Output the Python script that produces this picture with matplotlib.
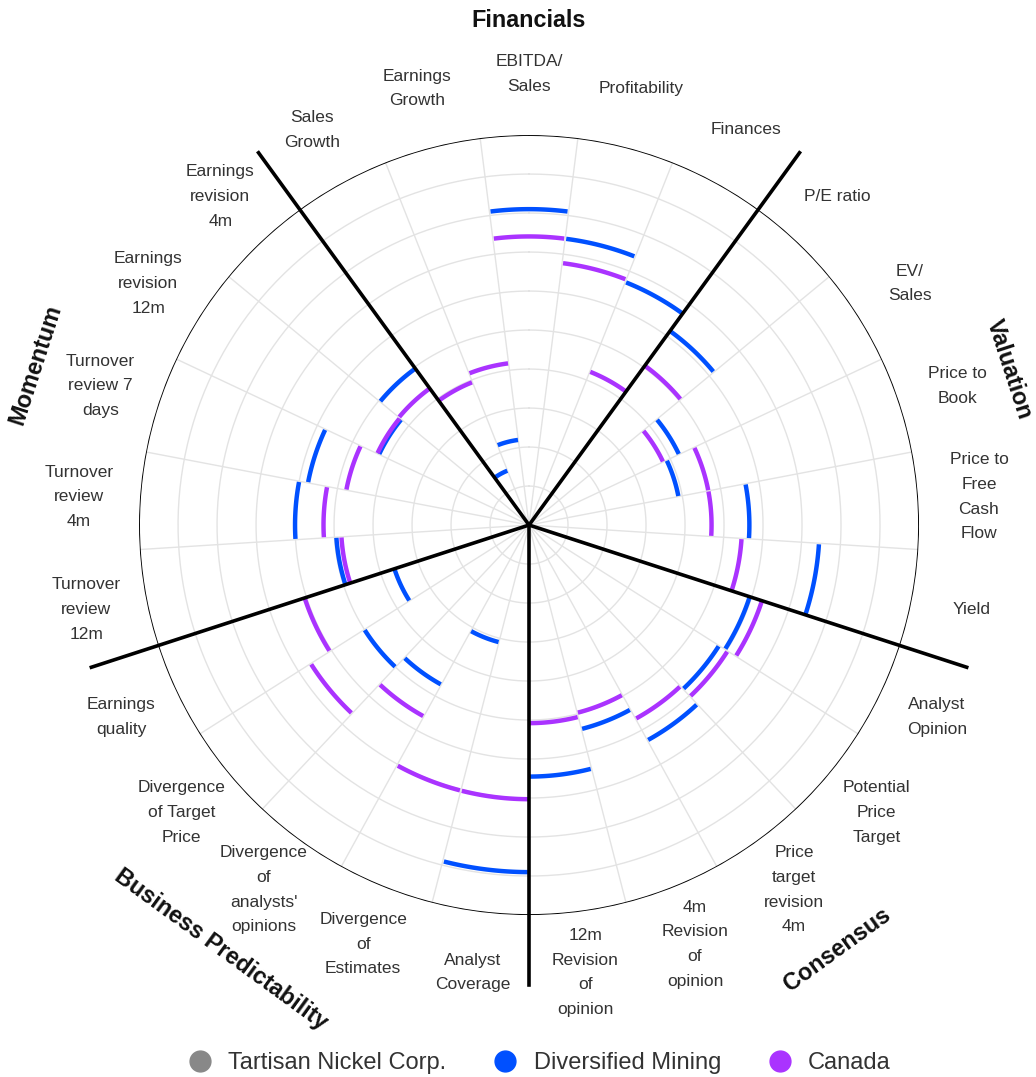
import numpy as np
import matplotlib
matplotlib.use('Agg')
import matplotlib.pyplot as plt
from matplotlib.lines import Line2D

plt.rcParams['font.family'] = ['Liberation Sans', 'DejaVu Sans']

# Groupes et critères (dans le sens horaire, en partant de Financials)
groups = ['Financials', 'Valuation', 'Consensus', 'Business Predictability', 'Momentum']
categories = [
    'Sales\nGrowth', 'Earnings\nGrowth', 'EBITDA/\nSales', 'Profitability', 'Finances',
    'P/E ratio', 'EV/\nSales', 'Price to\nBook', 'Price to\nFree\nCash\nFlow', 'Yield',
    'Analyst\nOpinion', 'Potential\nPrice\nTarget', 'Price\ntarget\nrevision\n4m',
    '4m\nRevision\nof\nopinion', '12m\nRevision\nof\nopinion',
    'Analyst\nCoverage', 'Divergence\nof\nEstimates', "Divergence\nof\nanalysts'\nopinions",
    'Divergence\nof Target\nPrice', 'Earnings\nquality',
    'Turnover\nreview\n12m', 'Turnover\nreview\n4m', 'Turnover\nreview 7\ndays',
    'Earnings\nrevision\n12m', 'Earnings\nrevision\n4m',
]

series_names = ['Tartisan Nickel Corp.', 'Diversified Mining', 'Canada']
series_colors = ['#888888', '#0050ff', '#aa33ff']

# Notes (0-100)
tartisan = [None] * 25  # pas de valeurs affichées
diversified = [15, 22, 81, 74, 67,
               61.5, 42.5, 39, 56.5, 74.5,
               59.5, 57.7, 63, 54, 64.5,
               89, 31, 46.7, 50, 36.3,
               49.5, 60, 57.7, 42.5, 49.6]
canada = [39.4, 41.8, 74, 67.7, 42.3,
          50.5, 38, 46.8, 46.8, 54.6,
          62.8, 60.3, 56.7, 49.7, 50.8,
          70.3, 70.3, 56, 66.3, 60.5,
          48.2, 52.7, 47.7, 43, 43.3]

n = len(categories)
per_group = n // len(groups)
step = 2 * np.pi / n
theta = -(per_group - 1) / 2 * step + step * np.arange(n)
bounds = theta - step / 2

fig = plt.figure(figsize=(10.36, 10.77), dpi=100)
ax = fig.add_axes([0.1342, 0.1504, 0.7529, 0.7242], projection='polar')
ax.set_theta_zero_location('N')
ax.set_theta_direction(-1)
ax.set_ylim(0, 100)
ax.set_xticks([])
ax.set_yticks([])
ax.grid(False)
ax.spines['polar'].set_visible(False)

# grille
circ = np.linspace(0, 2 * np.pi, 400)
for r in range(10, 100, 10):
    ax.plot(circ, np.full_like(circ, r), color='#e3e3e3', lw=1, zorder=1)
for b in bounds:
    ax.plot([b, b], [0, 100], color='#e3e3e3', lw=1, zorder=1)
ax.plot(circ, np.full_like(circ, 100), color='black', lw=1.3, zorder=2)

# séparateurs de groupes
for b in bounds[::per_group]:
    ax.plot([b, b], [0, 118], color='black', lw=2.6, zorder=5, clip_on=False)

# arcs
half = np.deg2rad(7.0)
for vals, col in zip([tartisan, diversified, canada], series_colors):
    for t, v in zip(theta, vals):
        if v is None:
            continue
        tt = np.linspace(t - half, t + half, 30)
        ax.plot(tt, np.full_like(tt, v), color=col, lw=3.2,
                solid_capstyle='butt', zorder=4)

# libellés des critères
for t, lab in zip(theta, categories):
    ax.text(t, 115.6, lab, ha='center', va='center', fontsize=12.5,
            color='#333333', linespacing=1.8, multialignment='center',
            clip_on=False)

# libellés des groupes
group_r = [129.5, 129.5, 134.5, 134.5, 133.0]
for g, name in enumerate(groups):
    ang = g * per_group * step
    deg = np.rad2deg(ang)
    rot = -deg if np.cos(ang) >= 0 else 180 - deg
    ax.text(ang, group_r[g], name, ha='center', va='center', fontsize=16.8,
            fontweight='bold', color='#111111', rotation=rot,
            rotation_mode='anchor', clip_on=False)

handles = [Line2D([], [], marker='o', linestyle='none', markersize=15,
                  markerfacecolor=c, markeredgecolor=c) for c in series_colors]
fig.legend(handles, series_names, loc='center', bbox_to_anchor=(0.515, 14 / 1077),
           ncol=3, frameon=False, fontsize=17, handletextpad=0.2,
           columnspacing=1.5, labelcolor='#333333')

fig.savefig('out.png', dpi=100, facecolor='white')
